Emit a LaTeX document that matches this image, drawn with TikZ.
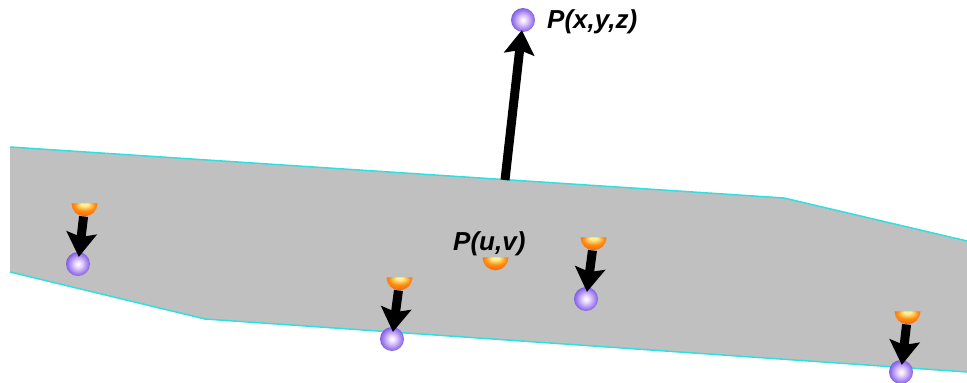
\documentclass[tikz,border=0pt]{standalone}
\usepackage{fontspec}
\setmainfont{Liberation Sans}
\usetikzlibrary{shapes.geometric,arrows.meta}
\definecolor{ballmid}{HTML}{9A78EC}
\definecolor{ballout}{HTML}{4A30D0}
\definecolor{ballin}{HTML}{EBD8FF}
\definecolor{hotin}{HTML}{FFF090}
\definecolor{hotmid}{HTML}{FF8C10}
\definecolor{hotout}{HTML}{F5480A}
\definecolor{surf}{HTML}{C0C0C0}
\definecolor{surfedge}{HTML}{30E0E0}
\pgfdeclareradialshading{ballshade}{\pgfpoint{0bp}{0bp}}{color(0bp)=(white);color(7bp)=(ballin);color(21bp)=(ballmid);color(33bp)=(ballout);color(50bp)=(ballout)}
\pgfdeclareradialshading{hotshade}{\pgfpoint{0bp}{26bp}}{color(0bp)=(hotin);color(7bp)=(hotin);color(20bp)=(hotmid);color(42bp)=(hotout);color(50bp)=(hotout)}
\tikzset{
  ball/.style={circle,inner sep=0pt,minimum size=24pt,shading=ballshade},
  hot/.style={semicircle,shape border rotate=180,inner sep=0pt,minimum width=24pt,minimum height=13pt,shading=hotshade},
  maparrow/.style={line width=9pt,-{Stealth[length=24pt,width=30pt,inset=4pt]},black},
  lbl/.style={font=\fontsize{26}{28}\selectfont\bfseries\itshape,inner sep=0pt,text=black}
}
\begin{document}
\begin{tikzpicture}[x=1pt,y=-1pt]
\useasboundingbox (0,0) rectangle (967,383);
\fill[white] (0,0) rectangle (967,383);
\fill[surf] (10,147) -- (784,198) -- (967,241) -- (967,372) -- (205,319) -- (10,272) -- cycle;
\draw[surfedge,line width=1.5pt] (10,147) -- (784,198) -- (967,241);
\draw[surfedge,line width=1.5pt] (10,272) -- (205,319) -- (967,372);
\node[ball] (b0) at (523,20) {};
\node[ball] (b1) at (78,264) {};
\node[ball] (b2) at (392,339) {};
\node[ball] (b3) at (586,299) {};
\node[ball] (b4) at (901,372) {};
\coordinate (s0) at (505,180);
\draw[maparrow,shorten >=-2pt] (s0) -- (b0);
\node[hot] (h1) at (84.5,208.5) {};
\node[hot] (h2) at (399.5,282.5) {};
\node[hot] (h0) at (495.5,262.5) {};
\node[hot] (h3) at (593.5,242.5) {};
\node[hot] (h4) at (907.5,316.5) {};
\draw[maparrow,shorten >=-5pt] (h1) -- (b1);
\draw[maparrow,shorten >=-5pt] (h2) -- (b2);
\draw[maparrow,shorten >=-5pt] (h3) -- (b3);
\draw[maparrow,shorten >=-5pt] (h4) -- (b4);
\node[lbl,anchor=west] (l0) at (547,22) {P(x,y,z)};
\node[lbl,anchor=west] (l1) at (453,244) {P(u,v)};
\end{tikzpicture}
\end{document}
